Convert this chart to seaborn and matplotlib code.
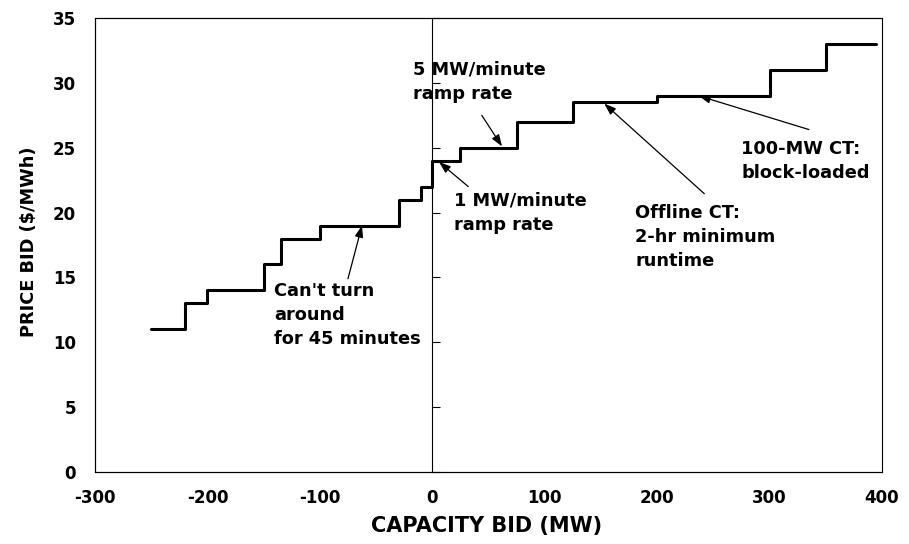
import matplotlib
matplotlib.use("Agg")
import matplotlib.pyplot as plt
import seaborn as sns

# bid curve: capacity breakpoints (MW) and price held from each breakpoint ($/MWh)
capacity_mw = [-250, -220, -200, -150, -135, -100, -30, -10, 0, 25, 75, 125, 200, 300, 350, 395]
price_bid = [11, 13, 14, 16, 18, 19, 21, 22, 24, 25, 27, 28.5, 29, 31, 33, 33]

x_ticks = [-300, -200, -100, 0, 100, 200, 300, 400]
y_ticks = [0, 5, 10, 15, 20, 25, 30, 35]

# (text, text left/center, arrow tail, arrow tip)
notes = [
    ("Can't turn\naround\nfor 45 minutes", (-140.5, 12.1), (-75, 14.9), (-62.5, 19.0)),
    ("5 MW/minute\nramp rate", (-17, 30.1), (44, 27.5), (62, 25.1)),
    ("1 MW/minute\nramp rate", (19, 20.0), (32, 22.0), (6, 23.9)),
    ("Offline CT:\n2-hr minimum\nruntime", (180.6, 18.1), (242, 21.45), (153, 28.4)),
    ("100-MW CT:\nblock-loaded", (274.6, 24.0), (335, 26.4), (237, 29.0)),
]

sns.set_style("white")
plt.rcParams["font.family"] = ["DejaVu Sans"]
plt.rcParams["font.weight"] = "bold"
plt.rcParams["axes.unicode_minus"] = False
plt.rcParams["text.color"] = "black"
plt.rcParams["axes.labelcolor"] = "black"
plt.rcParams["xtick.color"] = "black"
plt.rcParams["ytick.color"] = "black"

fig = plt.figure(figsize=(9.09, 5.44), dpi=100)
ax = fig.add_axes([0.1045, 0.1324, 0.8658, 0.8345])

sns.lineplot(x=capacity_mw, y=price_bid, drawstyle="steps-post", color="black",
             linewidth=2.2, ax=ax)

ax.set_xlim(-300, 400)
ax.set_ylim(0, 35)
ax.set_xticks(x_ticks)
ax.set_yticks(y_ticks)

# y ticks sit on the zero-capacity line, labels stay on the left frame
ax.spines["right"].set_position(("data", 0))
ax.yaxis.set_ticks_position("right")
ax.tick_params(axis="y", labelleft=True, labelright=False, direction="out",
               length=5.5, width=0.8, labelsize=12, pad=8.2)
ax.tick_params(axis="x", direction="in", length=7, width=0.8, labelsize=12, pad=12)
for s in ax.spines.values():
    s.set_color("black")
    s.set_linewidth(0.8)
ax.patch.set_edgecolor("black")
ax.patch.set_linewidth(0.8)

for txt, pos, tail, tip in notes:
    ax.text(pos[0], pos[1], txt, ha="left", va="center", fontsize=12.8,
            fontweight="bold", linespacing=1.42, color="black")
    ax.annotate("", xy=tip, xytext=tail,
                arrowprops=dict(arrowstyle="-|>,head_length=0.7,head_width=0.25",
                                color="black", lw=0.9, shrinkA=0, shrinkB=0))

ax.set_xlabel("CAPACITY BID (MW)", fontsize=15, fontweight="bold")
ax.set_ylabel("PRICE BID ($/MWh)", fontsize=12.8, fontweight="bold")
ax.xaxis.set_label_coords(0.4975, -0.097)
ax.yaxis.set_label_coords(-0.072, 0.507)

fig.savefig("out.png", dpi=100)
